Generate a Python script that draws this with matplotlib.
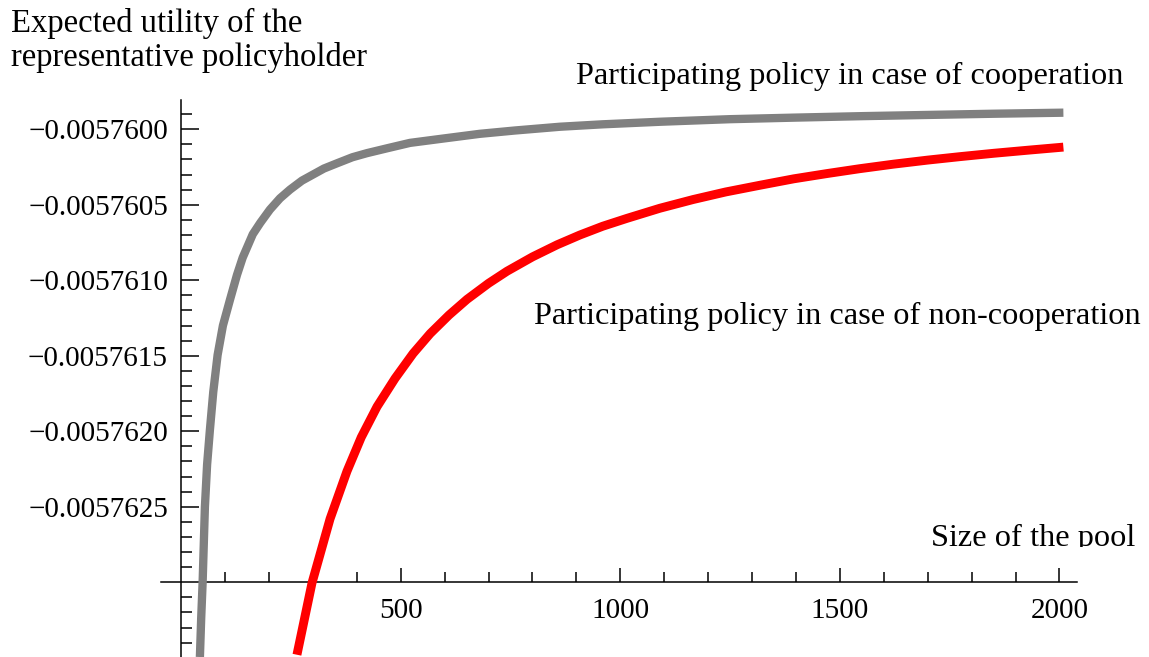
import matplotlib
matplotlib.use('Agg')
import matplotlib.pyplot as plt
from matplotlib.ticker import FuncFormatter, FixedLocator
from matplotlib.transforms import Bbox

# values (pool size, expected utility)
pool_coop = [42.6, 45.5, 48.8, 54.0, 59.0, 65.4, 73.0, 82.9, 95, 111, 127, 140,
             163, 180, 202, 225, 248, 275, 300, 325, 355, 390, 423, 470, 521,
             600, 680, 760, 863, 960, 1091, 1250, 1393, 1550, 1699, 1850, 2009]
util_coop = [-0.0057634950, -0.0057632400, -0.0057630000, -0.0057625000,
             -0.0057622200, -0.0057619900, -0.0057617400, -0.0057614950,
             -0.0057613000, -0.0057611300, -0.0057609650, -0.0057608500,
             -0.0057606950, -0.0057606200, -0.0057605320, -0.0057604570,
             -0.0057603990, -0.0057603400, -0.0057603000, -0.0057602600,
             -0.0057602250, -0.0057601850, -0.0057601580, -0.0057601250,
             -0.0057600900, -0.0057600600, -0.0057600300, -0.0057600080,
             -0.0057599830, -0.0057599670, -0.0057599500, -0.0057599330,
             -0.0057599230, -0.0057599130, -0.0057599050, -0.0057598970,
             -0.0057598900]

pool_noncoop = [263.6, 298, 339, 377.5, 410, 446, 487, 528, 567, 610, 651, 700,
                742, 800, 856, 908, 960, 1015, 1090, 1166, 1240, 1319, 1395,
                1471, 1545, 1622, 1700, 1774, 1850, 1930, 2009]
util_noncoop = [-0.0057634800, -0.0057630030, -0.0057625800, -0.0057622650,
                -0.0057620400, -0.0057618370, -0.0057616500, -0.0057614850,
                -0.0057613530, -0.0057612300, -0.0057611260, -0.0057610200,
                -0.0057609400, -0.0057608450, -0.0057607650, -0.0057607000,
                -0.0057606420, -0.0057605900, -0.0057605230, -0.0057604650,
                -0.0057604150, -0.0057603700, -0.0057603280, -0.0057602930,
                -0.0057602610, -0.0057602310, -0.0057602040, -0.0057601810,
                -0.0057601590, -0.0057601380, -0.0057601180]

x_ticks = [500, 1000, 1500, 2000]
y_ticks = [-0.0057600, -0.0057605, -0.0057610, -0.0057615, -0.0057620, -0.0057625]
y_minor = [-0.00576 - i * 1e-7 for i in range(-2, 36) if i % 5]

W, H = 1149, 657
serif = 'Liberation Serif'

fig = plt.figure(figsize=(W / 100, H / 100), dpi=100)
ax = fig.add_axes([161 / W, 0, (1077 - 161) / W, 557 / H])
ax.set_xlim(-46, 2040)
ax.set_ylim(-0.0057634950, -0.0057598060)

ax.plot(pool_coop, util_coop, color='#808080', lw=6.0, solid_capstyle='butt', zorder=3)
ax.plot(pool_noncoop, util_noncoop, color='#ff0000', lw=6.4, solid_capstyle='butt', zorder=3)

for s in ['top', 'right']:
    ax.spines[s].set_visible(False)
ax.spines['left'].set_position(('data', 0))
ax.spines['bottom'].set_position(('data', -0.005763))
for s in ['left', 'bottom']:
    ax.spines[s].set_linewidth(1.1)

ax.xaxis.set_major_locator(FixedLocator(x_ticks))
ax.xaxis.set_minor_locator(FixedLocator([100 * i for i in range(1, 21) if i % 5]))
ax.yaxis.set_major_locator(FixedLocator(y_ticks))
ax.yaxis.set_minor_locator(FixedLocator(y_minor))
ax.yaxis.set_major_formatter(FuncFormatter(lambda v, p: ('%.7f' % v).replace('-', '\u2212')))
ax.xaxis.set_major_formatter(FuncFormatter(lambda v, p: '%d' % v))

ax.tick_params(axis='y', which='major', direction='in', length=13, width=1.1, pad=9.5)
ax.tick_params(axis='y', which='minor', direction='in', length=8, width=1.1)
ax.tick_params(axis='x', which='major', direction='in', length=10, width=1.1, pad=11)
ax.tick_params(axis='x', which='minor', direction='in', length=7, width=1.1)
for lab in ax.get_xticklabels() + ax.get_yticklabels():
    lab.set_fontfamily(serif)
    lab.set_fontsize(21)

def px(x, y):
    return x / W, 1 - y / H

fig.text(*px(11, 32), 'Expected utility of the', family=serif, fontsize=23.5, va='baseline')
fig.text(*px(11, 66), 'representative policyholder', family=serif, fontsize=23.5, va='baseline')
fig.text(*px(1123, 84), 'Participating policy in case of cooperation', family=serif,
         fontsize=23.3, va='baseline', ha='right')
fig.text(*px(1141, 324), 'Participating policy in case of non-cooperation', family=serif,
         fontsize=23.3, va='baseline', ha='right')
t = fig.text(*px(1135, 546), 'Size of the pool', family=serif, fontsize=23.3,
             va='baseline', ha='right')
t.set_clip_box(Bbox([[0, H - 547], [W, H]]))
t.set_clip_on(True)

fig.savefig('out.png', dpi=100)
